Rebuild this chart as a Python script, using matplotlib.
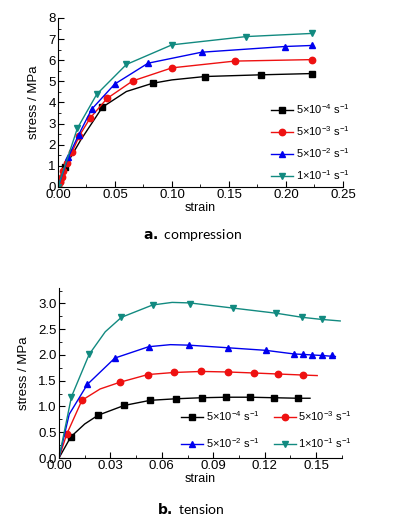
import matplotlib
matplotlib.use("Agg")
import matplotlib.pyplot as plt
from matplotlib.ticker import MultipleLocator, FormatStrFormatter

plt.rcParams["font.family"] = ["Liberation Sans", "DejaVu Sans"]
plt.rcParams["mathtext.default"] = "regular"

labels = [r"5×10$^{-4}$ s$^{-1}$", r"5×10$^{-3}$ s$^{-1}$",
          r"5×10$^{-2}$ s$^{-1}$", r"1×10$^{-1}$ s$^{-1}$"]
colors = ["black", "#ee1111", "#0000ee", "#128a80"]
markers = ["s", "o", "^", "v"]

# compression: markers
c_blk_x = [0.0, 0.002, 0.006, 0.039, 0.083, 0.129, 0.178, 0.223]
c_blk_y = [0.0, 0.35, 0.93, 3.78, 4.91, 5.23, 5.31, 5.37]
c_red_x = [0.0, 0.0015, 0.0032, 0.0047, 0.0082, 0.0125, 0.0187, 0.028, 0.043, 0.0655, 0.100, 0.155, 0.223]
c_red_y = [0.0, 0.25, 0.46, 0.75, 1.12, 1.67, 2.42, 3.25, 4.19, 5.02, 5.64, 5.96, 6.03]
c_blu_x = [0.0, 0.009, 0.018, 0.0295, 0.0497, 0.079, 0.126, 0.199, 0.223]
c_blu_y = [0.0, 1.41, 2.46, 3.68, 4.87, 5.86, 6.38, 6.65, 6.70]
c_tea_x = [0.0, 0.017, 0.034, 0.060, 0.100, 0.165, 0.223]
c_tea_y = [0.0, 2.78, 4.39, 5.80, 6.73, 7.12, 7.27]
# extra points
c_blk_line_x = [0.0, 0.006, 0.02, 0.039, 0.06, 0.083, 0.10, 0.129, 0.178, 0.223]
c_blk_line_y = [0.0, 0.93, 2.23, 3.78, 4.52, 4.91, 5.07, 5.23, 5.31, 5.37]

# tension: markers and line ends
t_blk_x = [0.0069, 0.0228, 0.038, 0.0533, 0.0684, 0.0832, 0.0977, 0.1114, 0.1253, 0.1394]
t_blk_y = [0.41, 0.83, 1.02, 1.12, 1.15, 1.17, 1.18, 1.18, 1.17, 1.16]
t_blk_line_x = [0.0, 0.0069, 0.015, 0.0228, 0.038, 0.0533, 0.0684, 0.0832, 0.0977, 0.1114, 0.1253, 0.1394, 0.1464]
t_blk_line_y = [0.0, 0.41, 0.66, 0.83, 1.02, 1.12, 1.15, 1.17, 1.18, 1.18, 1.17, 1.16, 1.16]
t_red_x = [0.0045, 0.0134, 0.0355, 0.0519, 0.067, 0.083, 0.0983, 0.1137, 0.128, 0.1425]
t_red_y = [0.46, 1.12, 1.47, 1.62, 1.66, 1.68, 1.67, 1.65, 1.63, 1.61]
t_red_line_x = [0.0, 0.0045, 0.0134, 0.024, 0.0355, 0.0519, 0.067, 0.083, 0.0983, 0.1137, 0.128, 0.1425, 0.1506]
t_red_line_y = [0.0, 0.46, 1.12, 1.34, 1.47, 1.62, 1.66, 1.68, 1.67, 1.65, 1.63, 1.61, 1.60]
t_blu_x = [0.0166, 0.0326, 0.0523, 0.0759, 0.0983, 0.1205, 0.137, 0.1423, 0.1477, 0.1531, 0.159]
t_blu_y = [1.43, 1.94, 2.16, 2.19, 2.14, 2.09, 2.02, 2.01, 2.005, 1.99, 1.99]
t_blu_line_x = [0.0, 0.006, 0.0166, 0.0326, 0.0523, 0.065, 0.0759, 0.0983, 0.1205, 0.137, 0.1531, 0.1612]
t_blu_line_y = [0.0, 0.85, 1.43, 1.94, 2.16, 2.20, 2.19, 2.14, 2.09, 2.02, 1.99, 1.97]
t_tea_x = [0.0073, 0.0176, 0.0364, 0.0546, 0.0763, 0.1015, 0.1267, 0.142, 0.1531]
t_tea_y = [1.19, 2.01, 2.73, 2.97, 2.99, 2.91, 2.81, 2.73, 2.69]
t_tea_line_x = [0.0, 0.0073, 0.0176, 0.027, 0.0364, 0.0546, 0.066, 0.0763, 0.1015, 0.1267, 0.142, 0.1531, 0.164]
t_tea_line_y = [0.0, 1.19, 2.01, 2.45, 2.73, 2.97, 3.02, 3.01, 2.91, 2.81, 2.73, 2.69, 2.66]

MS = 4.6

fig = plt.figure(figsize=(3.93, 5.2), dpi=100)
ax1 = fig.add_axes([0.1476, 0.6404, 0.725, 0.325])
ax2 = fig.add_axes([0.150, 0.1192, 0.720, 0.327])


def style(ax):
    for s in ["top", "right"]:
        ax.spines[s].set_visible(False)
    ax.tick_params(which="both", direction="in", labelsize=9.5, pad=1.5)
    ax.tick_params(which="major", length=4)
    ax.tick_params(which="minor", length=2.5)
    ax.set_xlabel("strain", fontsize=9, labelpad=0.5)
    ax.set_ylabel("stress / MPa", fontsize=9.5, labelpad=6)


# compression
c_lines = [(c_blk_line_x, c_blk_line_y), (c_red_x, c_red_y), (c_blu_x, c_blu_y), (c_tea_x, c_tea_y)]
c_marks = [(c_blk_x, c_blk_y), (c_red_x, c_red_y), (c_blu_x, c_blu_y), (c_tea_x, c_tea_y)]
h1 = []
for (lx, ly), (mx, my), col, mk, lab in zip(c_lines, c_marks, colors, markers, labels):
    ax1.plot(lx, ly, color=col, lw=1.0)
    ax1.plot(mx, my, ls="none", marker=mk, color=col, ms=MS)
    h1.append(ax1.plot([], [], color=col, marker=mk, ms=MS, lw=1.0, label=lab)[0])
ax1.set_xlim(0, 0.25)
ax1.set_ylim(0, 8)
ax1.xaxis.set_major_locator(MultipleLocator(0.05))
ax1.xaxis.set_minor_locator(MultipleLocator(0.025))
ax1.xaxis.set_major_formatter(FormatStrFormatter("%.2f"))
ax1.yaxis.set_major_locator(MultipleLocator(1))
ax1.yaxis.set_minor_locator(MultipleLocator(0.5))
style(ax1)
ax1.legend(handles=h1, loc="lower right", bbox_to_anchor=(1.06, -0.03), frameon=False, fontsize=8,
           handlelength=2.0, handletextpad=0.3, labelspacing=0.75)

# tension
t_lines = [(t_blk_line_x, t_blk_line_y), (t_red_line_x, t_red_line_y),
           (t_blu_line_x, t_blu_line_y), (t_tea_line_x, t_tea_line_y)]
t_marks = [(t_blk_x, t_blk_y), (t_red_x, t_red_y), (t_blu_x, t_blu_y), (t_tea_x, t_tea_y)]
h2 = []
for (lx, ly), (mx, my), col, mk, lab in zip(t_lines, t_marks, colors, markers, labels):
    ax2.plot(lx, ly, color=col, lw=1.0)
    ax2.plot(mx, my, ls="none", marker=mk, color=col, ms=MS)
    h2.append(ax2.plot([], [], color=col, marker=mk, ms=MS, lw=1.0, label=lab)[0])
ax2.set_xlim(0, 0.165)
ax2.set_ylim(0, 3.3)
ax2.xaxis.set_major_locator(MultipleLocator(0.03))
ax2.xaxis.set_minor_locator(MultipleLocator(0.015))
ax2.xaxis.set_major_formatter(FormatStrFormatter("%.2f"))
ax2.yaxis.set_major_locator(MultipleLocator(0.5))
ax2.yaxis.set_minor_locator(MultipleLocator(0.25))
ax2.yaxis.set_major_formatter(FormatStrFormatter("%.1f"))
style(ax2)
# two rows: black, red / blue, teal
order = [0, 2, 1, 3]
ax2.legend(handles=[h2[i] for i in order], loc="lower right", bbox_to_anchor=(1.07, -0.01),
           frameon=False, fontsize=8, ncol=2, handlelength=2.0, handletextpad=0.2,
           labelspacing=1.2, columnspacing=1.3)

fig.text(0.49, 0.548, r"$\mathbf{a.}$ compression", ha="center", va="center",
         fontsize=10, family=["Lato", "DejaVu Sans"])
fig.text(0.485, 0.023, r"$\mathbf{b.}$ tension", ha="center", va="center",
         fontsize=10, family=["Lato", "DejaVu Sans"])

fig.savefig("out.png", dpi=100)
